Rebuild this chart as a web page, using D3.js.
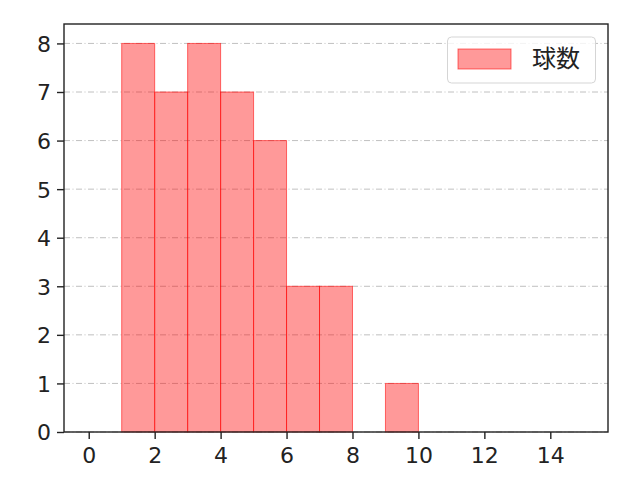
<!DOCTYPE html>
<html><head><meta charset="utf-8">
<script src="https://cdn.jsdelivr.net/npm/d3@7"></script>
<style>body{margin:0;background:#fff}svg text{font-family:"Noto Sans CJK JP","DejaVu Sans",sans-serif}</style>
</head><body><svg id="c" width="640" height="480"></svg>
<script>
const binStarts = [1, 2, 3, 4, 5, 6, 7, 8, 9];
const counts = [8, 7, 8, 7, 6, 3, 3, 0, 1];
const xTicks = [0, 2, 4, 6, 8, 10, 12, 14];
const yTicks = [0, 1, 2, 3, 4, 5, 6, 7, 8];
const seriesName = "球数";

const L = 64, R = 608, T = 24, B = 432;
const svg = d3.select("#c");
const x = d3.scaleLinear().domain([-0.75, 15.75]).range([L, R]);
const y = d3.scaleLinear().domain([0, 8.4]).range([B, T]);

// grid
svg.append("g").selectAll("line").data(yTicks).join("line")
  .attr("x1", L).attr("x2", R).attr("y1", d => y(d)).attr("y2", d => y(d))
  .attr("stroke", "#b0b0b0").attr("stroke-width", 0.8).attr("stroke-dasharray", "6,2.5,1,2.5");

// bars
const data = binStarts.map((s, i) => ({s, c: counts[i]})).filter(d => d.c > 0);
svg.append("g").selectAll("rect").data(data).join("rect")
  .attr("x", d => x(d.s)).attr("width", d => x(d.s + 1) - x(d.s))
  .attr("y", d => y(d.c)).attr("height", d => y(0) - y(d.c))
  .attr("fill", "rgba(255,0,0,0.4)").attr("stroke", "rgba(255,0,0,0.55)").attr("stroke-width", 1);

// axes
const xa = svg.append("g").attr("transform", `translate(0,${B})`)
  .call(d3.axisBottom(x).tickValues(xTicks).tickSize(7).tickPadding(8).tickFormat(d3.format("d")));
const ya = svg.append("g").attr("transform", `translate(${L},0)`)
  .call(d3.axisLeft(y).tickValues(yTicks).tickSize(7).tickPadding(6).tickFormat(d3.format("d")));
ya.selectAll(".tick text").attr("dy", "0.36em");
[xa, ya].forEach(a => {
  a.select(".domain").remove();
  a.selectAll(".tick line").attr("stroke", "#222").attr("stroke-width", 1.4);
  a.selectAll(".tick text").attr("fill", "#222").style("font-size", "22px")
    .style("font-family", "'DejaVu Sans', sans-serif");
});
svg.append("rect").attr("x", L).attr("y", T).attr("width", R - L).attr("height", B - T)
  .attr("fill", "none").attr("stroke", "#222").attr("stroke-width", 1.4);

// legend
const lg = svg.append("g");
lg.append("rect").attr("x", 447.5).attr("y", 37).attr("width", 148).attr("height", 46).attr("rx", 4)
  .attr("fill", "rgba(255,255,255,0.8)").attr("stroke", "#d5d5d5").attr("stroke-width", 1);
lg.append("rect").attr("x", 458).attr("y", 49).attr("width", 53).attr("height", 20)
  .attr("fill", "rgba(255,0,0,0.4)").attr("stroke", "rgba(255,0,0,0.55)");
lg.append("text").attr("x", 532).attr("y", 67).text(seriesName).style("font-size", "24px").attr("fill", "#222");
</script></body></html>
